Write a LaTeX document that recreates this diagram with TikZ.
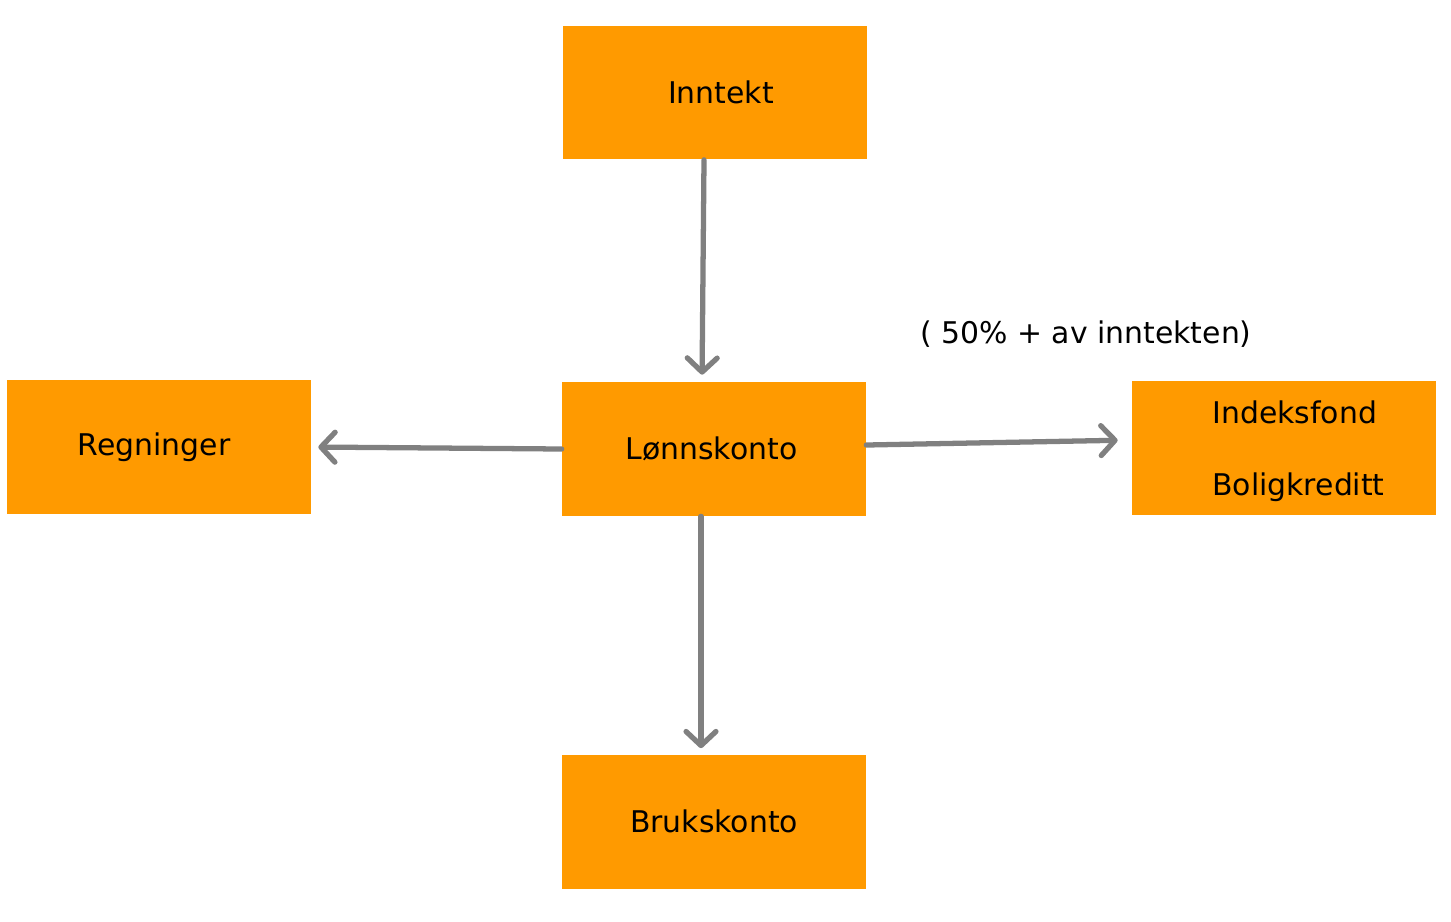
\documentclass[tikz,border=0pt]{standalone}
\usepackage{fontspec}
\setmainfont{DejaVu Sans}
\usetikzlibrary{arrows.meta}
\definecolor{boxorange}{RGB}{255,154,0}
\definecolor{arrowgray}{RGB}{128,128,128}
\tikzset{
  box/.style={fill=boxorange, draw=none, minimum width=6.08cm, minimum height=2.68cm, inner sep=0pt, font=\fontsize{17}{20}\selectfont},
  txt/.style={inner sep=0pt, font=\fontsize{17}{20}\selectfont},
  flow/.style={draw=arrowgray, line width=3pt, line cap=round, -{Straight Barb[length=8pt,width=17pt,round]}}
}
\begin{document}
\begin{tikzpicture}[x=0.02cm,y=-0.02cm]
\useasboundingbox (0,0) rectangle (1451,921);
\node[box] (inn) at (715,92.5) {\hspace*{0.24cm}Inntekt};
\node[box] (lon) at (714,449) {Lønnskonto\hspace*{0.1cm}};
\node[box] (reg) at (159,447) {Regninger\hspace*{0.2cm}};
\node[box] (idx) at (1284,448) {};
\node[txt, anchor=west, align=left] (idxt) at (1212,451) {Indeksfond\\[0.735cm]Boligkreditt};
\node[box] (bru) at (714,821.5) {Brukskonto};
\node[txt] (pct) at (1086,334) {( 50\% + av inntekten)};
\draw[flow, shorten >=0.14cm] ([xshift=-0.22cm]inn.south) -- ([xshift=-0.24cm]lon.north);
\draw[flow, shorten >=0.14cm] (lon.west) -- ([yshift=0.0cm]reg.east);
\draw[flow, shorten >=0.28cm] ([yshift=0.08cm]lon.east) -- ([yshift=0.16cm]idx.west);
\draw[flow, shorten >=0.12cm] ([xshift=-0.26cm]lon.south) -- ([xshift=-0.26cm]bru.north);
\end{tikzpicture}
\end{document}
